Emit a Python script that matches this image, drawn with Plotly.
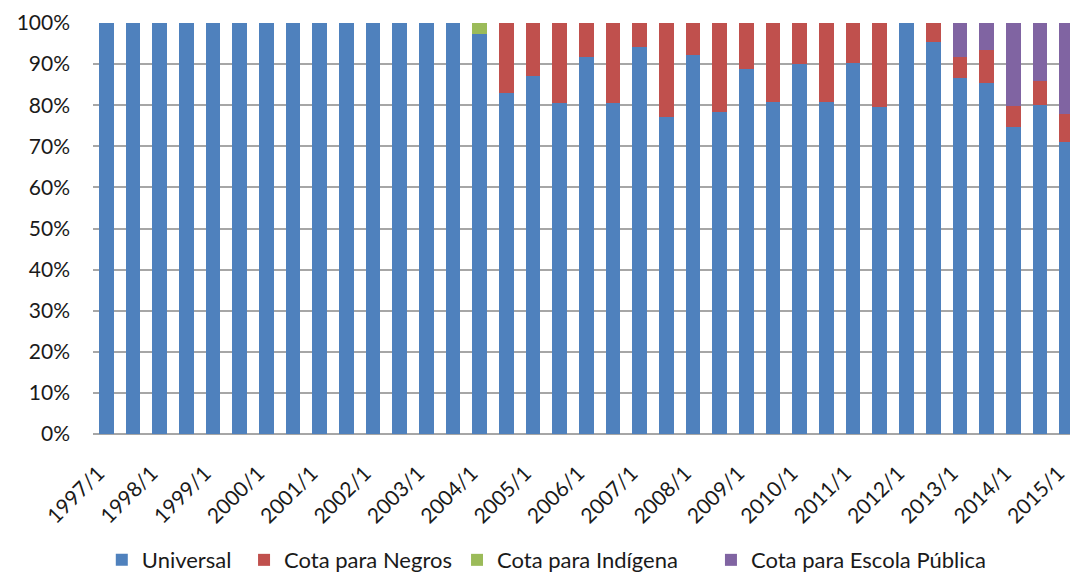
import plotly.graph_objects as go

# Semesters from 1997/1 to 2015/1
semestres = []
for ano in range(1997, 2016):
    for s in (1, 2):
        if ano == 2015 and s == 2:
            break
        semestres.append(f"{ano}/{s}")

universal = [100, 100, 100, 100, 100, 100, 100, 100, 100, 100, 100, 100, 100, 100,
             97.3, 82.9, 87.2, 80.5, 91.7, 80.5, 94.2, 77.1, 92.1, 78.4, 88.9, 80.9,
             90.0, 80.9, 90.3, 79.5, 100, 95.3, 86.5, 85.4, 74.6, 80.1, 71.1]
cota_negros = [0, 0, 0, 0, 0, 0, 0, 0, 0, 0, 0, 0, 0, 0,
               0, 17.1, 12.8, 19.5, 8.3, 19.5, 5.8, 22.9, 7.9, 21.6, 11.1, 19.1,
               10.0, 19.1, 9.7, 20.5, 0, 4.7, 5.2, 8.1, 5.3, 5.7, 6.7]
cota_indigena = [0] * 14 + [2.7] + [0] * 22
cota_escola_publica = [0] * 32 + [8.3, 6.5, 20.1, 14.2, 22.2]

series = [
    ("Universal", universal, "#4F81BD"),
    ("Cota para Negros", cota_negros, "#C0504D"),
    ("Cota para Indígena", cota_indigena, "#9BBB59"),
    ("Cota para Escola Pública", cota_escola_publica, "#8064A2"),
]

FONT = "Lato"
TXT = "#1a1a1a"

# one single-entry legend per series so each entry can be placed on its own
legend_ids = ["legend", "legend2", "legend3", "legend4"]
legend_x = [0.009, 0.1546, 0.3726, 0.6325]

fig = go.Figure()
for (nome, valores, cor), lid in zip(series, legend_ids):
    fig.add_trace(go.Bar(
        x=semestres, y=valores, name=nome,
        marker=dict(color=cor, line=dict(width=0)),
        legend=lid,
    ))

legend_cfg = {}
for lid, lx in zip(legend_ids, legend_x):
    legend_cfg[lid] = dict(
        orientation="h",
        x=lx, xanchor="left",
        y=0.026, yanchor="middle", yref="container",
        font=dict(family=FONT, size=22, color=TXT),
        itemwidth=30,
        bgcolor="rgba(0,0,0,0)",
    )

rotulos = [s for s in semestres if s.endswith("/1")]

fig.update_layout(
    barmode="stack",
    bargap=0.45,
    width=1070, height=575,
    margin=dict(l=93, r=0, t=23, b=141, autoexpand=False),
    paper_bgcolor="white",
    plot_bgcolor="white",
    font=dict(family=FONT, size=21, color=TXT),
    showlegend=True,
    xaxis=dict(
        type="category",
        categoryorder="array",
        categoryarray=semestres,
        range=[-0.5, 36.13],
        tickvals=rotulos,
        ticktext=rotulos,
        tickangle=-45,
        showgrid=False,
        showline=False,
        ticks="",
        automargin=False,
        ticklabelstandoff=22,
        ticklabelshift=-8,
        tickfont=dict(family=FONT, size=21, color=TXT),
    ),
    yaxis=dict(
        range=[0, 100],
        dtick=10,
        ticksuffix="%",
        showgrid=True,
        gridcolor="#A6A6A6",
        gridwidth=2,
        zeroline=True,
        zerolinecolor="#A6A6A6",
        zerolinewidth=2,
        showline=False,
        ticks="",
        automargin=False,
        ticklabelstandoff=22,
        tickfont=dict(family=FONT, size=21, color=TXT),
    ),
    **legend_cfg,
)

fig.write_html("out.html")
